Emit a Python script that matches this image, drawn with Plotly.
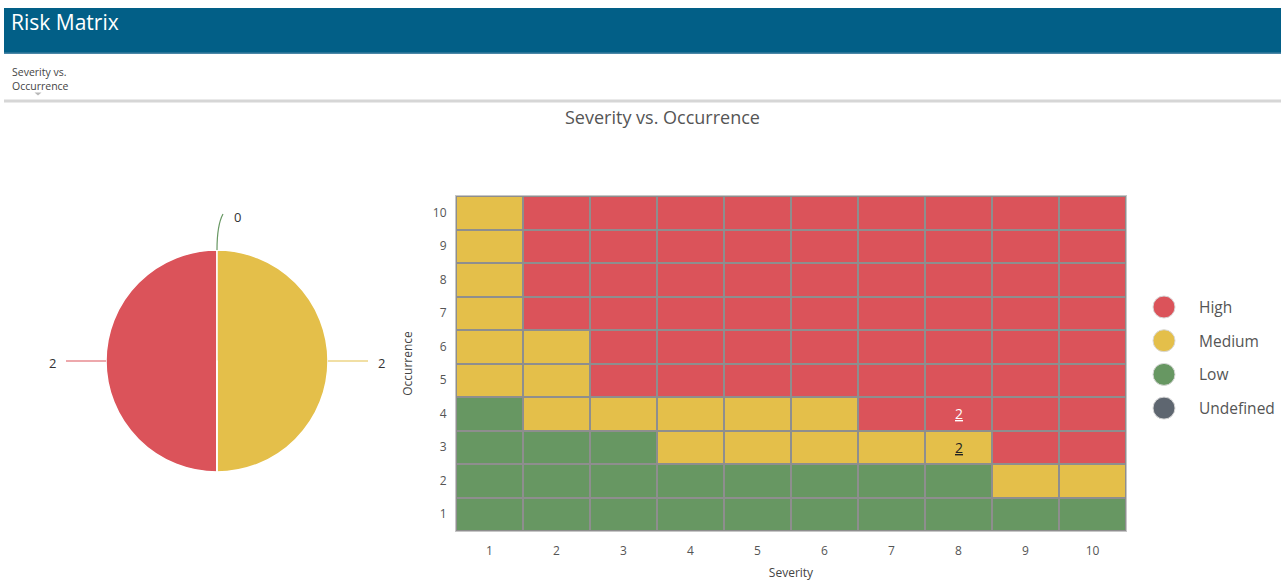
import math
import plotly.graph_objects as go

W, H = 1288, 581
FONT = "Open Sans, Noto Sans, sans-serif"

# ---- data -------------------------------------------------------------
severity = [1, 2, 3, 4, 5, 6, 7, 8, 9, 10]
occurrence = [1, 2, 3, 4, 5, 6, 7, 8, 9, 10]

# risk level of each cell, one row per occurrence value (1 = bottom row),
# columns follow severity 1..10
risk_row_1 = ["L", "L", "L", "L", "L", "L", "L", "L", "L", "L"]
risk_row_2 = ["L", "L", "L", "L", "L", "L", "L", "L", "M", "M"]
risk_row_3 = ["L", "L", "L", "M", "M", "M", "M", "M", "H", "H"]
risk_row_4 = ["L", "M", "M", "M", "M", "M", "H", "H", "H", "H"]
risk_row_5 = ["M", "M", "H", "H", "H", "H", "H", "H", "H", "H"]
risk_row_6 = ["M", "M", "H", "H", "H", "H", "H", "H", "H", "H"]
risk_row_7 = ["M", "H", "H", "H", "H", "H", "H", "H", "H", "H"]
risk_row_8 = ["M", "H", "H", "H", "H", "H", "H", "H", "H", "H"]
risk_row_9 = ["M", "H", "H", "H", "H", "H", "H", "H", "H", "H"]
risk_row_10 = ["M", "H", "H", "H", "H", "H", "H", "H", "H", "H"]

# number of risks sitting in a cell
count_severity = [8, 8]
count_occurrence = [4, 3]
count_value = [2, 2]

# totals per risk level
pie_labels = ["High", "Medium", "Low"]
pie_values = [2, 2, 0]

legend_labels = ["High", "Medium", "Low", "Undefined"]

# ---- styling ----------------------------------------------------------
level_colors = {"High": "#DB535A", "Medium": "#E4BF4A", "Low": "#679762",
                "Undefined": "#5E6670"}
code_index = {"L": 0, "M": 1, "H": 2}

rows = [risk_row_1, risk_row_2, risk_row_3, risk_row_4, risk_row_5,
        risk_row_6, risk_row_7, risk_row_8, risk_row_9, risk_row_10]
z = [[code_index[c] for c in row] for row in rows]
level_of = {"L": "Low", "M": "Medium", "H": "High"}
hover = [[level_of[c] for c in row] for row in rows]


def px(x):
    return x / W


def py(y):
    return 1 - y / H


def note(x, y, text, size, color, xanchor="center", ref="paper"):
    return dict(x=x, y=y, xref=ref, yref=ref, text=text, showarrow=False,
                xanchor=xanchor, yanchor="middle",
                font=dict(family=FONT, size=size, color=color))


fig = go.Figure()

# ---- risk matrix heatmap ---------------------------------------------
fig.add_trace(go.Heatmap(
    x=severity, y=occurrence, z=z, text=hover,
    colorscale=[[0, level_colors["Low"]], [0.5, level_colors["Medium"]],
                [1, level_colors["High"]]],
    zmin=0, zmax=2, showscale=False, xgap=2, ygap=2,
    hovertemplate="Severity %{x}<br>Occurrence %{y}<br>%{text}<extra></extra>",
))

# ---- pie of risk totals ---------------------------------------------
pie_x0, pie_x1 = 106, 328
pie_y0, pie_y1 = 250, 472
fig.add_trace(go.Pie(
    labels=pie_labels, values=pie_values, sort=False,
    direction="clockwise", rotation=180,
    marker=dict(colors=[level_colors[l] for l in pie_labels],
                line=dict(color="white", width=1.5)),
    textinfo="none", showlegend=False, hole=0,
    domain=dict(x=[px(pie_x0), px(pie_x1)], y=[py(pie_y1), py(pie_y0)]),
))

annotations = []
shapes = []

# pie value labels with connectors (High on the left half, Medium on the
# right half, the empty Low slice sits at 12 o'clock)
cx, cy = (pie_x0 + pie_x1) / 2, (pie_y0 + pie_y1) / 2
r = min(pie_x1 - pie_x0, pie_y1 - pie_y0) / 2
total = sum(pie_values)
start = 0.0
for lab, val in zip(pie_labels, pie_values):
    span = 360.0 * val / total
    mid = math.radians(start + span / 2)
    start += span
    ux, uy = -math.sin(mid), -math.cos(mid)   # screen coords, y down
    side = -1 if ux < -1e-6 else 1
    vertical = abs(uy) > 0.5
    p0 = (cx + r * ux, cy + r * uy)
    ctrl = (cx + (r + 25) * ux, cy + (r + 25) * uy)
    p1 = (cx + (r + 36) * ux + 4 * side, cy + (r + 36) * uy)
    if vertical:
        p1 = (p1[0] + 2 * side, p1[1])
    shapes.append(dict(
        type="path", xref="paper", yref="paper",
        path=f"M {px(p0[0])},{py(p0[1])} Q {px(ctrl[0])},{py(ctrl[1])} {px(p1[0])},{py(p1[1])}",
        line=dict(color=level_colors[lab], width=1.2),
    ))
    annotations.append(note(px(p1[0] + 14 * side),
                            py(p1[1] + (3 if vertical else 2)),
                            str(val), 13, "#333333"))

# cell counts
for sx, oy, v in zip(count_severity, count_occurrence, count_value):
    lvl = level_of[rows[oy - 1][sx - 1]]
    annotations.append(note(sx, oy, f"<u>{v}</u>", 14,
                            "white" if lvl == "High" else "#222222", ref=None))
    annotations[-1].update(xref="x", yref="y")

# page header
shapes.append(dict(type="rect", xref="paper", yref="paper",
                   x0=px(4), x1=px(1281), y0=py(53), y1=py(8),
                   fillcolor="#025F87", line=dict(width=0), layer="below"))
shapes.append(dict(type="rect", xref="paper", yref="paper",
                   x0=px(4), x1=px(1281), y0=py(54), y1=py(52.5),
                   fillcolor="#4A86A6", line=dict(width=0), layer="below"))
shapes.append(dict(type="rect", xref="paper", yref="paper",
                   x0=px(4), x1=px(1281), y0=py(102.5), y1=py(99.5),
                   fillcolor="#D6D6D6", line=dict(width=0), layer="below"))
shapes.append(dict(type="path", xref="paper", yref="paper",
                   path=f"M {px(34.5)},{py(92.5)} L {px(41.5)},{py(92.5)} L {px(38)},{py(95.5)} Z",
                   fillcolor="#B8B8B8", line=dict(width=0)))

annotations += [
    note(px(9), py(22), "Risk Matrix", 21, "white", xanchor="left"),
    note(px(10), py(72), "Severity vs.", 10.5, "#444444", xanchor="left"),
    note(px(10), py(85.5), "Occurrence", 10.5, "#444444", xanchor="left"),
    note(px(662), py(117), "Severity vs. Occurrence", 18, "#555555"),
]

# legend for risk levels
for i, lab in enumerate(legend_labels):
    ly = 307 + i * 33.7
    shapes.append(dict(type="circle", xref="paper", yref="paper",
                       x0=px(1153), x1=px(1175), y0=py(ly + 11), y1=py(ly - 11),
                       fillcolor=level_colors[lab],
                       line=dict(color="#D8D8D8", width=1)))
    annotations.append(note(px(1197), py(ly), lab, 15.5, "#555555",
                            xanchor="left"))

fig.update_layout(
    width=W, height=H, margin=dict(l=0, r=0, t=0, b=0),
    paper_bgcolor="white", plot_bgcolor="#8E8E8E",
    showlegend=False, shapes=shapes, annotations=annotations,
    font=dict(family=FONT),
    xaxis=dict(domain=[px(456), px(1126)], range=[0.5, 10.5],
               tickvals=severity, ticks="outside", ticklen=9,
               tickcolor="rgba(0,0,0,0)", showgrid=False, zeroline=False,
               showline=True, mirror=True, linecolor="#C6C6C6", linewidth=1,
               tickfont=dict(size=12, color="#555555"),
               title=dict(text="Severity", standoff=10,
                          font=dict(size=12, color="#444444"))),
    yaxis=dict(domain=[py(531), py(196)], range=[0.5, 10.5],
               tickvals=occurrence, ticks="outside", ticklen=6,
               tickcolor="rgba(0,0,0,0)", showgrid=False, zeroline=False,
               showline=True, mirror=True, linecolor="#C6C6C6", linewidth=1,
               tickfont=dict(size=12, color="#555555"),
               title=dict(text="Occurrence", standoff=17,
                          font=dict(size=12, color="#444444"))),
)

fig.write_html("out.html")
